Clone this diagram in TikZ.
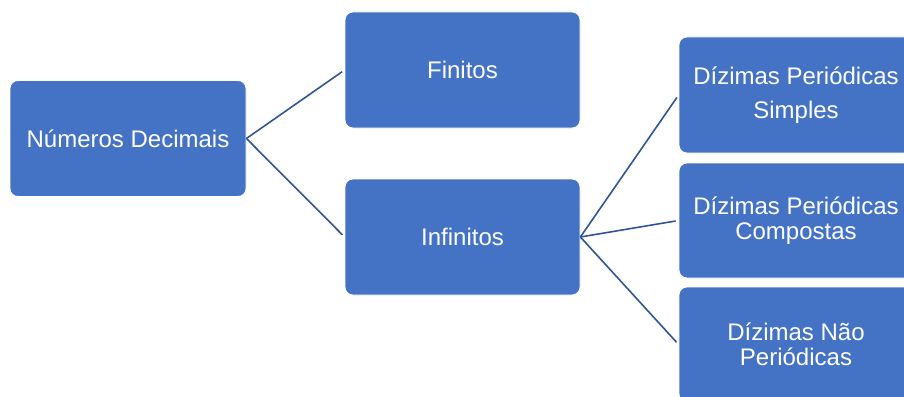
\documentclass[tikz,border=0pt]{standalone}
\usepackage{fontspec}
\setmainfont{Liberation Sans}
\definecolor{boxblue}{RGB}{68,114,196}
\definecolor{lineblue}{RGB}{47,85,151}
\begin{document}
\begin{tikzpicture}[x=1pt,y=-1pt,
  box/.style={rectangle, rounded corners=8pt, fill=boxblue, draw=white, line width=0.8pt,
    text=white, align=center, font=\fontsize{24}{25}\selectfont,
    minimum width=235pt, minimum height=116pt, inner sep=0pt},
  conn/.style={draw=lineblue, line width=1.6pt}]
\useasboundingbox (0,0) rectangle (904,396);
\clip (0,0) rectangle (904,396);
\node[box, minimum width=236pt] (nd) at (128,138.5) {Números Decimais};
\node[box] (fin) at (462.5,70) {Finitos};
\node[box] (inf) at (462.5,237) {Infinitos};
\node[box, minimum width=234pt] (s1) at (796,95) {Dízimas Periódicas\\[9pt]Simples};
\node[box, minimum width=234pt, minimum height=115pt] (s2) at (796,220.5) {Dízimas Periódicas\\Compostas};
\node[box, minimum width=234pt, minimum height=115pt] (s3) at (796,344.5) {Dízimas Não\\Periódicas};
\draw[conn, shorten >=3pt] (nd.east) -- (fin.west);
\draw[conn, shorten >=3pt] (nd.east) -- (inf.west);
\draw[conn, shorten >=3pt] (inf.east) -- (s1.west);
\draw[conn, shorten >=3pt] (inf.east) -- (s2.west);
\draw[conn, shorten >=3pt] (inf.east) -- (s3.west);
\end{tikzpicture}
\end{document}
